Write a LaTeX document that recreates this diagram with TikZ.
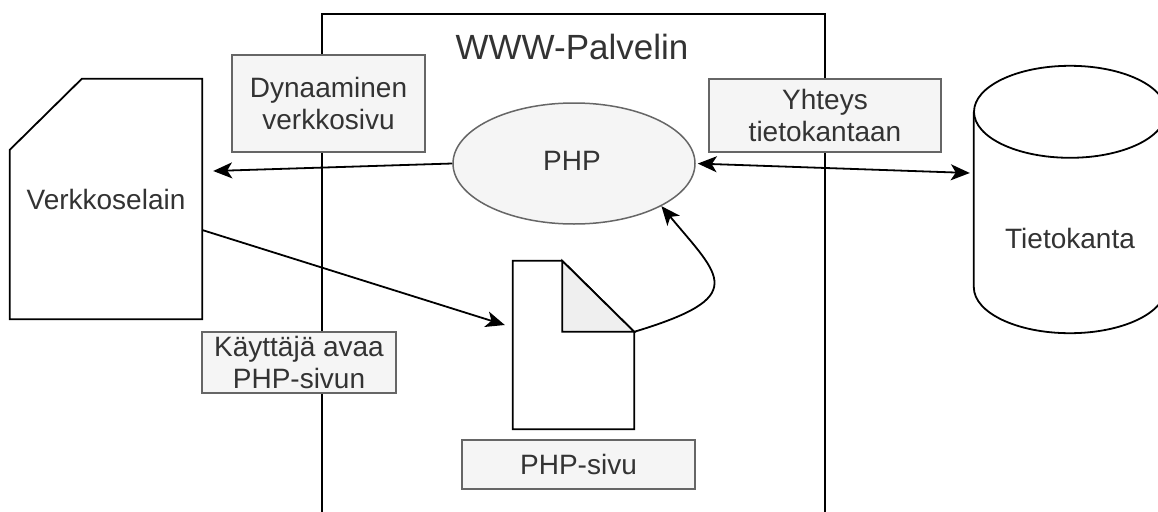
\documentclass[tikz,border=0pt]{standalone}
\usepackage{fontspec}
\setmainfont{Liberation Sans}
\usetikzlibrary{arrows.meta,shapes.geometric}
\definecolor{txt}{HTML}{333333}
\definecolor{boxfill}{HTML}{F5F5F5}
\definecolor{boxline}{HTML}{666666}
\definecolor{foldfill}{HTML}{EFEFEF}
\tikzset{
  every node/.style={text=txt, font=\fontsize{28}{32}\selectfont, inner sep=0pt, align=center},
  outline/.style={draw=black, line width=1.8pt, line join=miter},
  labelbox/.style={draw=boxline, fill=boxfill, line width=1.5pt, rectangle},
  ghost/.style={rectangle, draw=none},
  conn/.style={line width=1.8pt, -{Stealth[length=19pt,width=16pt,inset=5pt]}},
  biconn/.style={line width=1.8pt, {Stealth[length=19pt,width=16pt,inset=5pt]}-{Stealth[length=19pt,width=16pt,inset=5pt]}}
}
\begin{document}
\begin{tikzpicture}[x=1pt,y=-1pt]
\useasboundingbox (0,0) rectangle (1158,511);
\clip (0,0) rectangle (1158,511);
\fill[white] (0,0) rectangle (1158,511);

% web server frame (open at the bottom)
\draw[outline] (322,525) -- (322,14) -- (825,14) -- (825,525);
\node (title) at (572,47) {\fontsize{35}{40}\selectfont WWW-Palvelin};

% browser: card with a cut corner
\node[ghost, minimum width=192, minimum height=240] (browser) at (106,199) {};
\draw[outline, fill=white]
  (browser.south west) -- ([yshift=-71]browser.north west)
  -- ([xshift=72]browser.north west) -- (browser.north east)
  -- (browser.south east) -- cycle;
\node (browsertext) at (browser.center) {Verkkoselain};

% PHP page: document with a folded corner
\node[ghost, minimum width=121, minimum height=168] (doc) at (573.5,345) {};
\draw[outline, fill=white]
  (doc.south west) -- (doc.north west) -- ([xshift=-72]doc.north east)
  -- ([yshift=-71]doc.north east) -- (doc.south east) -- cycle;
\draw[outline, fill=foldfill]
  ([xshift=-72]doc.north east) -- ([xshift=-72,yshift=-71]doc.north east)
  -- ([yshift=-71]doc.north east) -- cycle;

% database cylinder
\node[ghost, minimum width=192, minimum height=267] (db) at (1070,199.5) {};
\draw[outline, fill=white]
  ([yshift=-46]db.north west) -- ([yshift=46]db.south west)
  arc[start angle=180, end angle=360, x radius=96pt, y radius=46pt]
  -- ([yshift=-46]db.north east);
\draw[outline] ([yshift=-46]db.north) ellipse[x radius=96pt, y radius=46pt];
\node (dbtext) at ([yshift=-38.5]db.center) {Tietokanta};

% PHP interpreter
\node[ellipse, draw=boxline, fill=boxfill, line width=1.5pt,
      minimum width=242, minimum height=121] (php) at (574,163.5) {};
\node (phptext) at ([shift={(-2,-2.5)}]php.center) {PHP};

% connectors
\draw[conn] (php.west) -- ([shift={(11,-28)}]browser.east);
\draw[conn] ([yshift=-31]browser.east) -- ([shift={(-8,-20)}]doc.west);
\draw[conn] ([yshift=-71]doc.north east)
  .. controls +(116,-35) and +(59,71) .. (php.-26);
\draw[biconn, shorten <=2pt] (php.east) -- ([shift={(-4,-26.5)}]db.west);

% labels
\node[labelbox, minimum width=193, minimum height=97] (lbl1) at (328.5,103.5)
  {Dynaaminen\\verkkosivu};
\node[labelbox, minimum width=232, minimum height=73] (lbl2) at (825,115.5)
  {Yhteys\\tietokantaan};
\node[labelbox, minimum width=194, minimum height=61] (lbl3) at (299,362.5)
  {K\"aytt\"aj\"a avaa\\PHP-sivun};
\node[labelbox, minimum width=233, minimum height=49] (lbl4) at (578.5,464.5)
  {PHP-sivu};
\end{tikzpicture}
\end{document}
